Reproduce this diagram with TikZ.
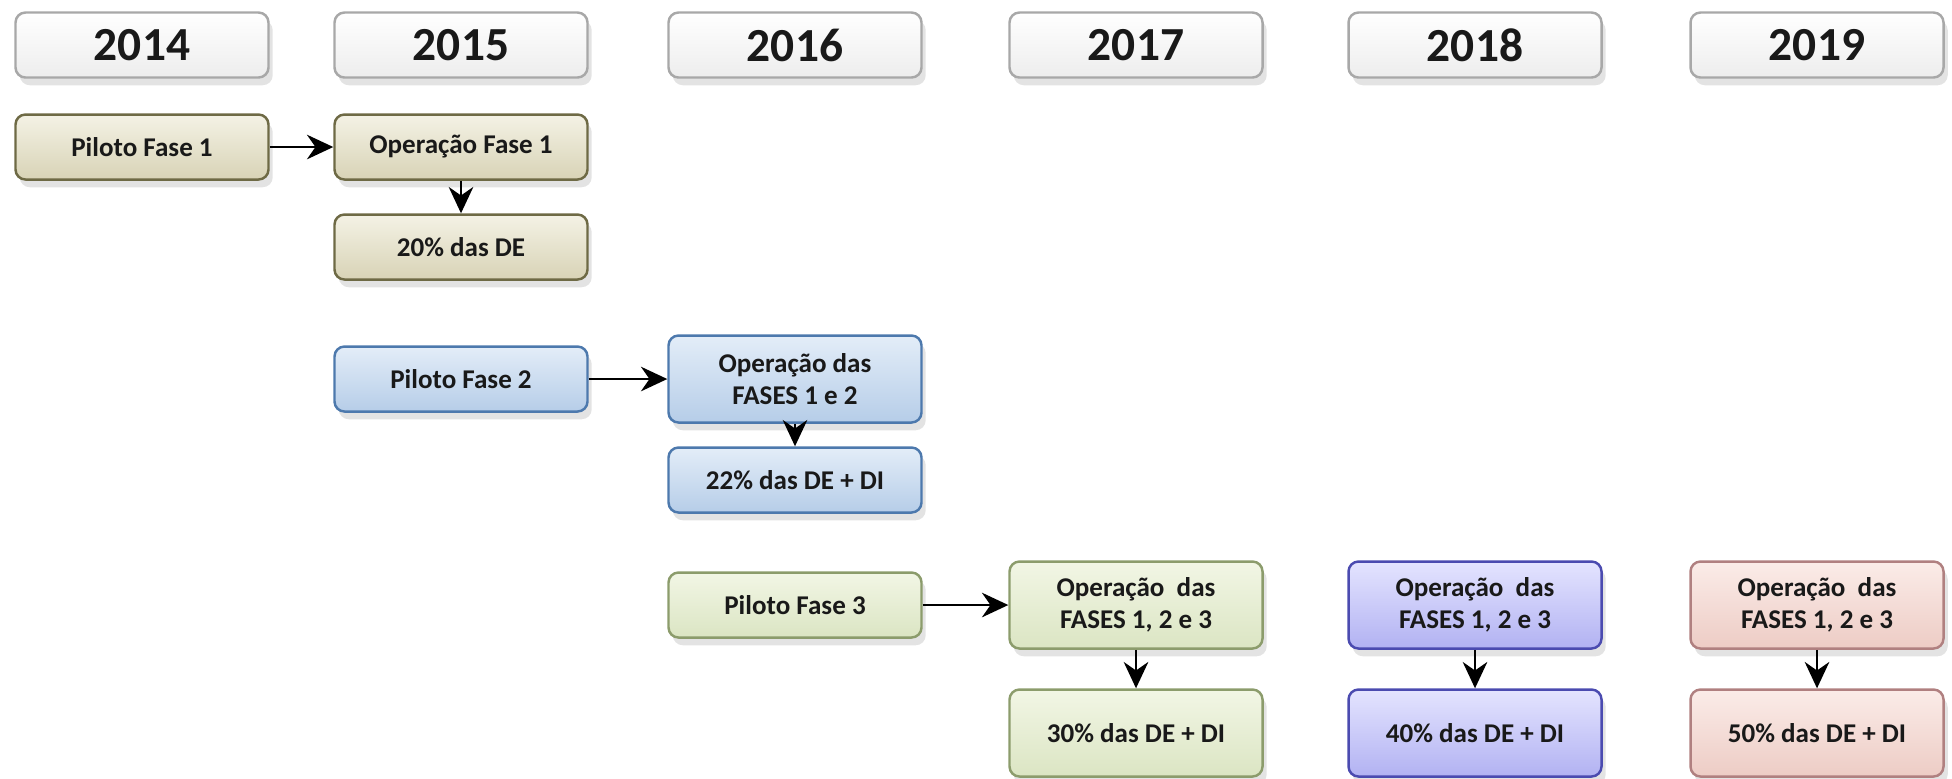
\documentclass[tikz,border=0pt]{standalone}
\usepackage{fontspec}
\setmainfont{Carlito}
\usetikzlibrary{shadows,arrows.meta}

\definecolor{anoBorda}{HTML}{A8A8A8}
\definecolor{anoBase}{HTML}{EDEDED}
\definecolor{olivaBorda}{HTML}{6E6A45}
\definecolor{olivaTopo}{HTML}{F4F2E5}
\definecolor{olivaBase}{HTML}{D8D3B6}
\definecolor{azulBorda}{HTML}{4D79AD}
\definecolor{azulTopo}{HTML}{E3EDF8}
\definecolor{azulBase}{HTML}{B6CDE8}
\definecolor{verdeBorda}{HTML}{8C9C6C}
\definecolor{verdeTopo}{HTML}{F2F6E5}
\definecolor{verdeBase}{HTML}{DBE5C3}
\definecolor{roxoBorda}{HTML}{4B4BB0}
\definecolor{roxoTopo}{HTML}{E4E4FF}
\definecolor{roxoBase}{HTML}{B2B2F2}
\definecolor{rosaBorda}{HTML}{B08080}
\definecolor{rosaTopo}{HTML}{FBECE8}
\definecolor{rosaBase}{HTML}{EDCCC5}

\begin{document}
\begin{tikzpicture}[
    caixa/.style={draw, rounded corners=0.1cm, line width=0.7pt, minimum width=2.53cm, minimum height=0.65cm,
        align=center, text=black!90, font=\bfseries\fontsize{7.7}{9}\selectfont,
        drop shadow={shadow xshift=1.2pt, shadow yshift=-2.2pt, opacity=0.22}},
    ano/.style={caixa, draw=anoBorda, top color=white, bottom color=anoBase, font=\bfseries\fontsize{13.5}{15}\selectfont},
    fase1/.style={caixa, draw=olivaBorda, top color=olivaTopo, bottom color=olivaBase},
    fase2/.style={caixa, draw=azulBorda, top color=azulTopo, bottom color=azulBase},
    fase3/.style={caixa, draw=verdeBorda, top color=verdeTopo, bottom color=verdeBase},
    fase4/.style={caixa, draw=roxoBorda, top color=roxoTopo, bottom color=roxoBase},
    fase5/.style={caixa, draw=rosaBorda, top color=rosaTopo, bottom color=rosaBase},
    alta/.style={minimum height=0.87cm},
    seta/.style={-{Stealth[length=7.5pt,width=7pt]}, line width=0.6pt, black}
]
    \useasboundingbox (0,0) rectangle (19.52,-7.78);

    % Anos
    \node[ano] (a2014) at (1.42,-0.45) {2014};
    \node[ano] (a2015) at (4.61,-0.45) {2015};
    \node[ano] (a2016) at (7.95,-0.45) {2016};
    \node[ano] (a2017) at (11.36,-0.45) {2017};
    \node[ano] (a2018) at (14.75,-0.45) {2018};
    \node[ano] (a2019) at (18.17,-0.45) {2019};

    % Fase 1
    \node[fase1] (piloto1) at (1.42,-1.47) {Piloto Fase 1};
    \node[fase1] (oper1) at (4.61,-1.47) {Operação Fase 1};
    \node[fase1] (meta1) at (4.61,-2.47) {20\% das DE};

    % Fase 2
    \node[fase2] (piloto2) at (4.61,-3.79) {Piloto Fase 2};
    \node[fase2, alta] (oper2) at (7.95,-3.79) {Operação das\\FASES 1 e 2};
    \node[fase2] (meta2) at (7.95,-4.80) {22\% das DE + DI};

    % Fase 3
    \node[fase3] (piloto3) at (7.95,-6.05) {Piloto Fase 3};
    \node[fase3, alta] (oper3) at (11.36,-6.05) {Operação~~das\\FASES 1, 2 e 3};
    \node[fase3, alta] (meta3) at (11.36,-7.33) {30\% das DE + DI};
    \node[fase4, alta] (oper4) at (14.75,-6.05) {Operação~~das\\FASES 1, 2 e 3};
    \node[fase4, alta] (meta4) at (14.75,-7.33) {40\% das DE + DI};
    \node[fase5, alta] (oper5) at (18.17,-6.05) {Operação~~das\\FASES 1, 2 e 3};
    \node[fase5, alta] (meta5) at (18.17,-7.33) {50\% das DE + DI};

    % Setas
    \draw[seta] (piloto1) -- (oper1);
    \draw[seta] (oper1) -- (meta1);
    \draw[seta] (piloto2) -- (oper2);
    \draw[seta] (oper2) -- (meta2);
    \draw[seta] (piloto3) -- (oper3);
    \draw[seta] (oper3) -- (meta3);
    \draw[seta] (oper4) -- (meta4);
    \draw[seta] (oper5) -- (meta5);
\end{tikzpicture}
\end{document}
